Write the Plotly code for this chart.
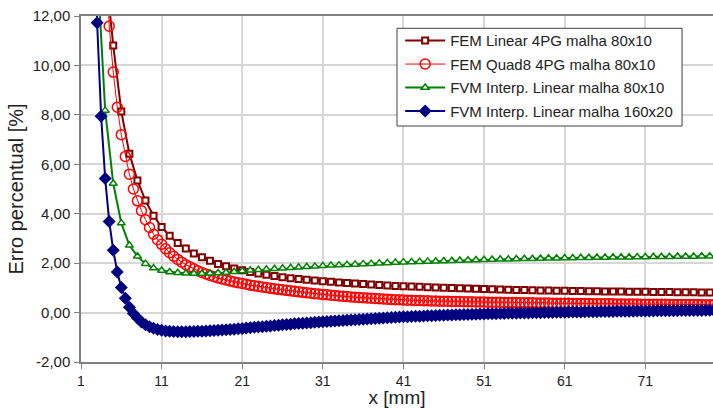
import plotly.graph_objects as go

# ---------------- data ----------------
# FEM Linear 4PG malha 80x10  (x = 1, 2, ..., 80 mm)
fem_lin_x = list(range(1, 81))
fem_lin_y = [40.0, 27.0, 19.0, 14.0, 10.81, 8.14, 6.43, 5.34, 4.53, 3.92,
             3.46, 3.11, 2.81, 2.59, 2.39, 2.24, 2.10, 1.97, 1.87, 1.78,
             1.71, 1.64, 1.58, 1.53, 1.48, 1.43, 1.39, 1.36, 1.33, 1.30,
             1.27, 1.25, 1.22, 1.20, 1.18, 1.16, 1.14, 1.12, 1.10, 1.08,
             1.07, 1.05, 1.04, 1.02, 1.01, 1.00, 0.99, 0.98, 0.97, 0.96,
             0.95, 0.94, 0.93, 0.92, 0.91, 0.91, 0.90, 0.89, 0.89, 0.88,
             0.88, 0.87, 0.87, 0.86, 0.86, 0.85, 0.85, 0.85, 0.84, 0.84,
             0.84, 0.83, 0.83, 0.83, 0.82, 0.82, 0.82, 0.81, 0.81, 0.81]

# FEM Quad8 4PG malha 80x10  (x = 0.5, 1.0, ..., 80 mm)
fem_q8_y = [90.0, 60.0, 45.0, 35.0, 28.0, 23.0, 19.0, 15.0, 11.59, 9.73,
            8.31, 7.20, 6.32, 5.60, 5.00, 4.52, 4.12, 3.76, 3.44, 3.17,
            2.95, 2.76, 2.58, 2.42, 2.28, 2.15, 2.04, 1.94, 1.85, 1.77,
            1.69, 1.62, 1.56, 1.50, 1.45, 1.40, 1.36, 1.32, 1.28, 1.24,
            1.21, 1.18, 1.15, 1.11, 1.09, 1.06, 1.03, 1.01, 0.98, 0.96,
            0.94, 0.92, 0.90, 0.88, 0.86, 0.84, 0.82, 0.80, 0.78, 0.76,
            0.75, 0.73, 0.72, 0.70, 0.69, 0.67, 0.66, 0.65, 0.63, 0.62,
            0.61, 0.60, 0.59, 0.58, 0.57, 0.56, 0.55, 0.54, 0.53, 0.52,
            0.52, 0.51, 0.50, 0.50, 0.49, 0.49, 0.48, 0.48, 0.47, 0.47,
            0.46, 0.46, 0.46, 0.45, 0.45, 0.45, 0.44, 0.44, 0.44, 0.43,
            0.43, 0.43, 0.42, 0.42, 0.42, 0.42, 0.41, 0.41, 0.41, 0.41,
            0.40, 0.40, 0.40, 0.40, 0.39, 0.39, 0.39, 0.39, 0.38, 0.38,
            0.38, 0.38, 0.38, 0.37, 0.37, 0.37, 0.37, 0.37, 0.36, 0.36,
            0.36, 0.36, 0.36, 0.36, 0.35, 0.35, 0.35, 0.35, 0.35, 0.35,
            0.34, 0.34, 0.34, 0.34, 0.34, 0.34, 0.34, 0.33, 0.33, 0.33,
            0.33, 0.33, 0.33, 0.33, 0.33, 0.32, 0.32, 0.32, 0.32, 0.32]
fem_q8_x = [0.5 * (i + 1) for i in range(len(fem_q8_y))]

# FVM Interp. Linear malha 80x10  (x = 1, 2, ..., 80 mm)
fvm80_x = list(range(1, 81))
fvm80_y = [30.0, 20.0, 14.1, 8.18, 5.22, 3.62, 2.72, 2.28, 1.98, 1.80,
           1.70, 1.64, 1.61, 1.59, 1.58, 1.58, 1.59, 1.60, 1.62, 1.65,
           1.68, 1.71, 1.73, 1.75, 1.77, 1.79, 1.81, 1.83, 1.85, 1.87,
           1.89, 1.91, 1.92, 1.94, 1.95, 1.97, 1.98, 2.00, 2.01, 2.03,
           2.04, 2.05, 2.06, 2.07, 2.08, 2.09, 2.10, 2.11, 2.12, 2.13,
           2.14, 2.15, 2.16, 2.16, 2.17, 2.18, 2.18, 2.19, 2.20, 2.20,
           2.21, 2.21, 2.22, 2.22, 2.23, 2.23, 2.24, 2.24, 2.24, 2.25,
           2.25, 2.26, 2.26, 2.26, 2.27, 2.27, 2.27, 2.28, 2.28, 2.28]

# FVM Interp. Linear malha 160x20  (x = 0.5, 1.0, ..., 80 mm)
fvm160_y = [120.0, 80.0, 55.0, 38.0, 20.0, 11.73, 7.94, 5.42, 3.69, 2.52,
            1.64, 1.01, 0.58, 0.22, -0.04, -0.22, -0.38, -0.49, -0.57, -0.63,
            -0.68, -0.72, -0.75, -0.76, -0.77, -0.78, -0.78, -0.78, -0.77, -0.77,
            -0.76, -0.76, -0.75, -0.74, -0.73, -0.72, -0.71, -0.70, -0.68, -0.67,
            -0.65, -0.64, -0.62, -0.61, -0.59, -0.58, -0.57, -0.55, -0.54, -0.52,
            -0.51, -0.49, -0.48, -0.47, -0.45, -0.44, -0.43, -0.42, -0.41, -0.39,
            -0.38, -0.37, -0.36, -0.35, -0.34, -0.33, -0.32, -0.31, -0.30, -0.29,
            -0.28, -0.27, -0.26, -0.25, -0.24, -0.23, -0.22, -0.21, -0.20, -0.19,
            -0.18, -0.17, -0.17, -0.16, -0.15, -0.15, -0.14, -0.13, -0.13, -0.12,
            -0.11, -0.11, -0.10, -0.10, -0.09, -0.09, -0.08, -0.08, -0.07, -0.07,
            -0.06, -0.06, -0.05, -0.05, -0.05, -0.04, -0.04, -0.03, -0.03, -0.03,
            -0.02, -0.02, -0.02, -0.01, -0.01, -0.01, 0.00, 0.00, 0.00, 0.01,
            0.01, 0.01, 0.02, 0.02, 0.02, 0.02, 0.03, 0.03, 0.03, 0.03,
            0.04, 0.04, 0.04, 0.04, 0.05, 0.05, 0.05, 0.05, 0.05, 0.06,
            0.06, 0.06, 0.06, 0.06, 0.07, 0.07, 0.07, 0.07, 0.07, 0.07,
            0.08, 0.08, 0.08, 0.08, 0.08, 0.08, 0.09, 0.09, 0.09, 0.09]
fvm160_x = [0.5 * (i + 1) for i in range(len(fvm160_y))]

x_tick_vals = [1, 11, 21, 31, 41, 51, 61, 71]
x_tick_text = ["1", "11", "21", "31", "41", "51", "61", "71"]
y_tick_vals = [-2, 0, 2, 4, 6, 8, 10, 12]
y_tick_text = ["-2,00", "0,00", "2,00", "4,00", "6,00", "8,00", "10,00", "12,00"]

series_names = ["FEM Linear 4PG malha 80x10",
                "FEM Quad8 4PG malha 80x10",
                "FVM Interp. Linear malha 80x10",
                "FVM Interp. Linear malha 160x20"]

# ---------------- figure ----------------
FONT = "Liberation Sans, Arial, Helvetica, sans-serif"
TXT = "#222222"

fig = go.Figure()

fig.add_trace(go.Scatter(
    x=fem_lin_x, y=fem_lin_y, name=series_names[0], mode="lines+markers",
    legendgroup="g1",
    line=dict(color="#800000", width=2),
    marker=dict(symbol="square", size=6, color="white",
                line=dict(color="#800000", width=2)),
))
fig.add_trace(go.Scatter(
    x=fem_q8_x, y=fem_q8_y, name=series_names[1], mode="lines+markers",
    legendgroup="g2",
    line=dict(color="#FF0000", width=1),
    marker=dict(symbol="circle-open", size=10, color="#FF0000",
                line=dict(color="#FF0000", width=1.5)),
))
fig.add_trace(go.Scatter(
    x=fvm80_x, y=fvm80_y, name=series_names[2], mode="lines+markers",
    legendgroup="g3",
    line=dict(color="#008000", width=2),
    marker=dict(symbol="triangle-up", size=7, color="white",
                line=dict(color="#008000", width=1.5)),
))
fig.add_trace(go.Scatter(
    x=fvm160_x, y=fvm160_y, name=series_names[3], mode="lines+markers",
    legendgroup="g4",
    line=dict(color="#000080", width=2),
    marker=dict(symbol="diamond", size=10, color="#000080",
                line=dict(color="#000080", width=0)),
))

# legend frame (white box with dark border), drawn above the grid
fig.add_shape(type="rect", xref="paper", yref="paper",
              x0=0.5, x1=0.951, y0=0.682, y1=0.9645,
              fillcolor="white", line=dict(color="#404040", width=1),
              layer="above")

fig.update_layout(
    width=713, height=408,
    margin=dict(l=81, r=0, t=16, b=46, autoexpand=False),
    paper_bgcolor="white", plot_bgcolor="white",
    font=dict(family=FONT, color=TXT, size=14),
    showlegend=True,
    legend=dict(
        x=0.505, y=0.976, xanchor="left", yanchor="top",
        bgcolor="rgba(0,0,0,0)", borderwidth=0,
        font=dict(family=FONT, size=15, color=TXT),
        itemwidth=40, tracegroupgap=1,
    ),
)

fig.update_xaxes(
    range=[1, 79.4], tickmode="array", tickvals=x_tick_vals, ticktext=x_tick_text,
    automargin=False,
    showgrid=True, gridcolor="#d6d6d6", gridwidth=1.5,
    showline=True, linecolor="#808080", linewidth=1.5, mirror=True,
    ticks="outside", ticklen=5, tickcolor="#808080", tickwidth=1,
    tickfont=dict(family=FONT, size=14, color=TXT),
    zeroline=False,
    title=dict(text="x [mm]", font=dict(family=FONT, size=19, color=TXT), standoff=0),
)
fig.update_yaxes(
    range=[-2, 12], tickmode="array", tickvals=y_tick_vals, ticktext=y_tick_text,
    automargin=False,
    showgrid=True, gridcolor="#d6d6d6", gridwidth=1.5,
    showline=True, linecolor="#808080", linewidth=1.5,
    ticks="outside", ticklen=5, tickcolor="#808080", tickwidth=1,
    ticklabelstandoff=1,
    tickfont=dict(family=FONT, size=15, color=TXT),
    zeroline=False,
    title=dict(text="Erro percentual [%]", font=dict(family=FONT, size=20, color=TXT), standoff=4),
)

fig.write_html("out.html",
               config={"displayModeBar": False},
               post_script="document.body.style.margin='0';document.body.style.overflow='hidden';")
